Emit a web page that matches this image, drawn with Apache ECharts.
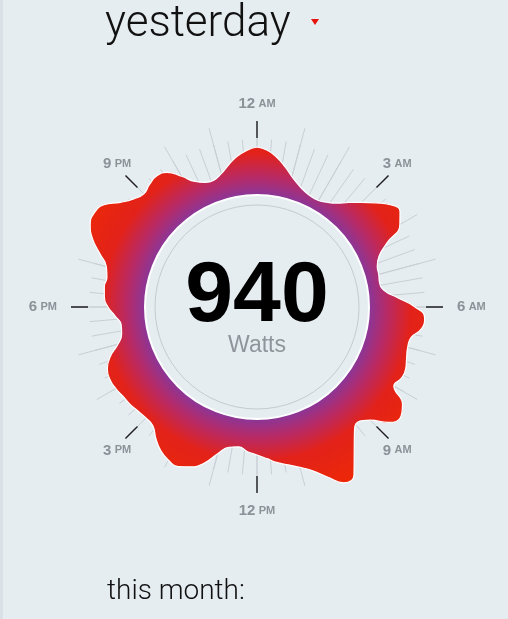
<!DOCTYPE html>
<html><head><meta charset="utf-8">
<script src="https://cdn.jsdelivr.net/npm/echarts@6/dist/echarts.min.js"></script>
<style>html,body{margin:0;padding:0;background:#e6edf1}#c{width:508px;height:619px}</style>
</head><body><div id="c"></div>
<script>
// time of day in minutes (quarter-hour samples), and relative load
const minutes = [0,15,30,45,60,75,90,105,120,135,150,165,180,195,210,225,240,255,270,285,300,315,330,345,
  360,375,390,405,420,435,450,465,480,495,510,525,540,555,570,585,600,615,630,645,660,675,690,705,
  720,735,750,765,780,795,810,825,840,855,870,885,900,915,930,945,960,975,990,1005,1020,1035,1050,1065,
  1080,1095,1110,1125,1140,1155,1170,1185,1200,1215,1230,1245,1260,1275,1290,1305,1320,1335,1350,1365,1380,1395,1410,1425];
const load = [48,45,39,31,23,17,13,11,11,14,19,27,36,46,56,60,53,33,20,15,14,13,16,29,
  46,56,54,45,44,46,49,49,46,63,69,63,48,41,48,63,82,84,72,61,54,49,45,40,
  36,33,29,31,40,53,61,66,65,61,54,46,45,46,48,49,51,52,50,43,32,26,25,30,
  37,41,42,41,44,54,66,74,76,72,60,52,48,51,53,50,39,28,23,22,26,33,40,45];
const tickLabels = ['12 AM','3 AM','6 AM','9 AM','12 PM','3 PM','6 PM','9 PM'];
const titleText = 'yesterday';
const centerValue = '940';
const unitText = 'Watts';
const footerText = 'this month:';

const CX = 257, CY = 307;
const chart = echarts.init(document.getElementById('c'), null, {renderer: 'canvas'});

const blobData = minutes.map((m, i) => [load[i], m]);
blobData.push([load[0], 1440]);

function fmtLabel(v) {
  const s = tickLabels[v / 180];
  if (!s) return '';
  const p = s.split(' ');
  return '{n|' + p[0] + '} {s|' + p[1] + '}';
}
const richLab = {
  n: {fontSize: 15, fontWeight: 600, color: '#8c9298', fontFamily: 'Liberation Sans'},
  s: {fontSize: 11, fontWeight: 600, color: '#8c9298', fontFamily: 'Liberation Sans'}
};

const radii = [[112, 200], [112, 168], [112, 185], [169, 186], [169, 186], [0, 102], [0, 112]];
const polar = radii.map(r => ({center: [CX, CY], radius: r}));
const radiusAxis = radii.map((r, i) => ({polarIndex: i, show: false, min: 0, max: i === 0 ? 88 : 1}));
function ang(i, extra) {
  return Object.assign({
    polarIndex: i, type: 'value', min: 0, max: 1440, startAngle: 90, clockwise: true,
    axisLine: {show: false}, axisTick: {show: false}, axisLabel: {show: false}, splitLine: {show: false}
  }, extra);
}
const angleAxis = [
  ang(0, {interval: 180}),
  ang(1, {interval: 20, splitLine: {show: true, lineStyle: {color: '#c8d0d6', width: 1}}}),
  ang(2, {interval: 60, splitLine: {show: true, lineStyle: {color: '#c8d0d6', width: 1}}}),
  ang(3, {interval: 180, splitLine: {show: true, lineStyle: {color: '#1d1d1f', width: 1.4}},
    axisLabel: {show: true, margin: -8, padding: [18, 22, 18, 22],
      formatter: v => (v % 360 === 0 ? fmtLabel(v) : ''), rich: richLab}}),
  ang(4, {interval: 180,
    axisLabel: {show: true, margin: -8, padding: [10, 0, 10, 0],
      formatter: v => (v % 360 === 180 ? fmtLabel(v) : ''), rich: richLab}}),
  ang(5, {interval: 180, axisLine: {show: true, lineStyle: {color: '#c4ccd2', width: 1}}}),
  ang(6, {interval: 180, z: 5, axisLine: {show: true, lineStyle: {color: '#ffffff', width: 2}}})
];

const grad = new echarts.graphic.RadialGradient(CX, CY, 200, [
  {offset: 0, color: '#80389d'},
  {offset: 0.56, color: '#8a3698'},
  {offset: 0.65, color: '#b72a66'},
  {offset: 0.77, color: '#e2221a'},
  {offset: 1, color: '#ee2806'}
], true);

chart.setOption({
  backgroundColor: '#e6edf1',
  animation: false,
  polar, radiusAxis, angleAxis,
  series: [{
    type: 'line', coordinateSystem: 'polar', polarIndex: 0,
    data: blobData, smooth: 0.5, symbol: 'none', clip: false, z: 3,
    lineStyle: {color: '#ffffff', width: 1.2},
    areaStyle: {color: grad, opacity: 1}
  }],
  graphic: [
    {type: 'rect', shape: {x: 0, y: 0, width: 3, height: 619}, style: {fill: '#d9e1e7'}},
    {type: 'text', x: 105, y: 25, style: {text: titleText, font: '300 44px Roboto', fill: '#111', verticalAlign: 'middle'}},
    {type: 'polygon', shape: {points: [[311, 19], [319, 19], [315, 25]]}, style: {fill: '#e8130c'}},
    {type: 'text', x: CX, y: 297, z: 10, style: {text: centerValue, font: 'bold 86px "Liberation Sans"', fill: '#000', align: 'center', verticalAlign: 'middle'}},
    {type: 'text', x: CX, y: 346, z: 10, style: {text: unitText, font: '23px "Liberation Sans"', fill: '#8f959b', align: 'center', verticalAlign: 'middle'}},
    {type: 'text', x: 107, y: 592, style: {text: footerText, font: '300 28px Roboto', fill: '#111', verticalAlign: 'middle'}}
  ]
});
</script></body></html>
